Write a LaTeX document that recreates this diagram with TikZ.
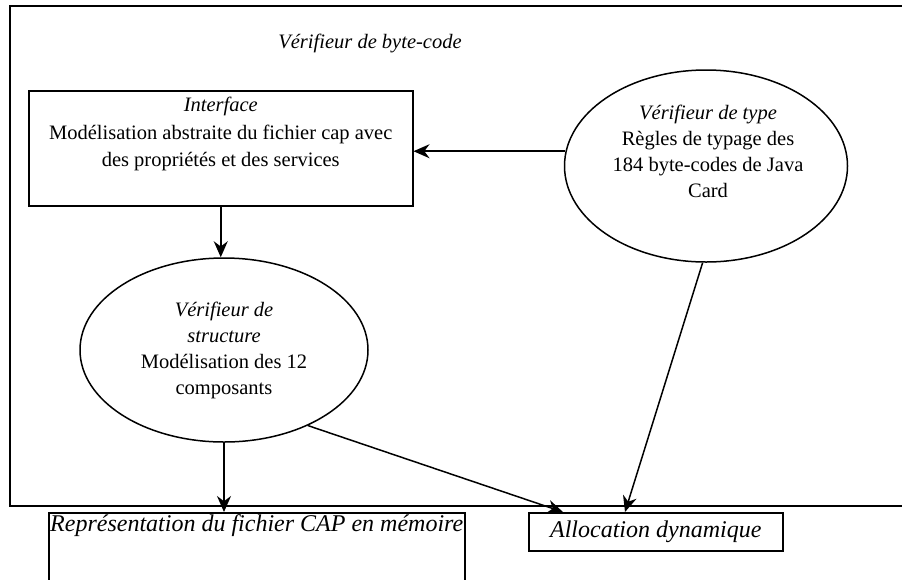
\documentclass[tikz,border=0pt]{standalone}
\usepackage{fontspec}
\setmainfont{Liberation Serif}
\usetikzlibrary{shapes.geometric, arrows.meta, positioning}

\begin{document}
\begin{tikzpicture}
	[
		x=1pt, y=-1pt,
		every node/.style={font=\fontsize{20.5}{26}\selectfont},
		grand/.style={font=\fontsize{24}{28}\selectfont},
		box/.style={draw, line width=1.5pt, inner sep=0pt},
		bulle/.style={draw, ellipse, line width=1.5pt, inner sep=0pt, align=center},
		fleche/.style={-{Stealth[length=16pt, width=14pt]}, line width=1.5pt}
	]
	\useasboundingbox (0,0) rectangle (902,579);
	\clip (0,0) rectangle (902,579);

	\node[box, line width=2pt, minimum width=911pt, minimum height=500pt, anchor=north west] (verifieur) at (9,5) {};
	\node (titre) at (370,43) {\textit{Vérifieur de byte-code}};

	\node[box, minimum width=384pt, minimum height=115pt, anchor=north west] (interface) at (28,90) {};
	\node[anchor=north, align=center, font=\fontsize{20.5}{27.5}\selectfont] (interfacetxt) at ([yshift=-4pt]interface.north) {\textit{Interface}\\Modélisation abstraite du fichier cap avec\\des propriétés et des services};

	\node[bulle, minimum width=283pt, minimum height=192pt] (type) at (706,166) {};
	\node[align=center] (typetxt) at (708,151) {\textit{Vérifieur de type}\\Règles de typage des\\184 byte-codes de Java\\Card};

	\node[bulle, minimum width=288pt, minimum height=184pt] (structure) at (224,350) {\textit{Vérifieur de}\\\textit{structure}\\Modélisation des 12\\composants};

	\node[box, minimum width=416pt, minimum height=100pt, anchor=north west] (memoire) at (48,512) {};
	\node[grand, anchor=north, inner sep=2pt] (memoiretxt) at (memoire.north) {\textit{Représentation du fichier CAP en mémoire}};
	\node[box, grand, minimum width=254pt, minimum height=38pt, anchor=north west] (allocation) at (528,512) {\textit{Allocation dynamique}};

	\draw[fleche] (type.174) -- (type.174 -| interface.east);
	\draw[fleche] (interface.south) -- (interface.south |- structure.north);
	\draw[fleche] (structure.south) -- (structure.south |- memoire.north);
	\draw[fleche] (structure.-42) -- ([xshift=35pt]allocation.north west);
	\draw[fleche] (type.268) -- ([xshift=97pt]allocation.north west);
\end{tikzpicture}
\end{document}
